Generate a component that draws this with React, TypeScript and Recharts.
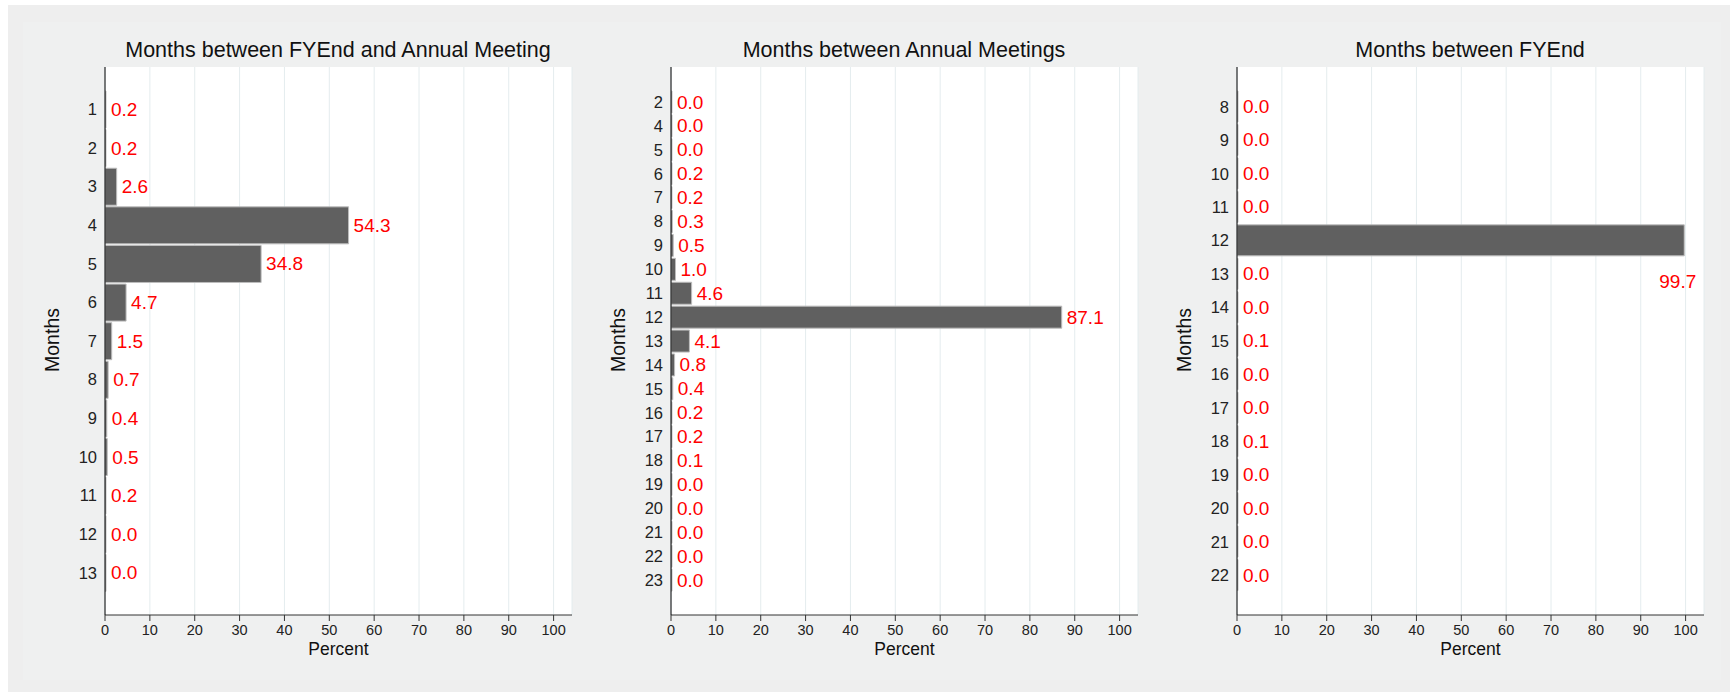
import React from 'react';
import { BarChart, Bar, CartesianGrid, XAxis, YAxis, LabelList, Label } from 'recharts';

const fyMeetMonths = ['1', '2', '3', '4', '5', '6', '7', '8', '9', '10', '11', '12', '13'];
const fyMeetPct = [0.2, 0.2, 2.6, 54.3, 34.8, 4.7, 1.5, 0.7, 0.4, 0.5, 0.2, 0.0, 0.0];

const meetMonths = ['2', '4', '5', '6', '7', '8', '9', '10', '11', '12', '13', '14', '15', '16', '17', '18', '19', '20', '21', '22', '23'];
const meetPct = [0.0, 0.0, 0.0, 0.2, 0.2, 0.3, 0.5, 1.0, 4.6, 87.1, 4.1, 0.8, 0.4, 0.2, 0.2, 0.1, 0.0, 0.0, 0.0, 0.0, 0.0];

const fyMonths = ['8', '9', '10', '11', '12', '13', '14', '15', '16', '17', '18', '19', '20', '21', '22'];
const fyPct = [0.0, 0.0, 0.0, 0.0, 99.7, 0.0, 0.0, 0.1, 0.0, 0.0, 0.1, 0.0, 0.0, 0.0, 0.0];

const percentTicks = [0, 10, 20, 30, 40, 50, 60, 70, 80, 90, 100];

const FONT = '"Liberation Sans", Arial, Helvetica, sans-serif';

const zip = (months: string[], pct: number[]) => months.map((m, i) => ({ m, pct: pct[i] }));

const renderValue = (props: any) => {
    const { x, y, width, height, value } = props;
    const v = Number(value);
    if (v > 95) {
        // no room on the right: drop it under the bar, like the original
        return (
            <text x={x + width + 12} y={y + height + 26} textAnchor="end" dominantBaseline="central" fill="#ff0000" fontSize={19} fontFamily={FONT}>
                {v.toFixed(1)}
            </text>
        );
    }
    return (
        <text x={x + width + 5} y={y + height / 2} dominantBaseline="central" fill="#ff0000" fontSize={19} fontFamily={FONT}>
            {v.toFixed(1)}
        </text>
    );
};

interface PanelProps {
    title: string;
    months: string[];
    pct: number[];
    plotLeft: number;
}

const Y_WIDTH = 80;
const M_RIGHT = 20;
const PLOT_W = 467;

const Panel: React.FC<PanelProps> = ({ title, months, pct, plotLeft }) => {
    const left = plotLeft - Y_WIDTH;
    const width = Y_WIDTH + PLOT_W + M_RIGHT;
    const data = zip(months, pct);
    return (
        <>
            <div style={{ position: 'absolute', left: plotLeft, top: 40, width: PLOT_W, textAlign: 'center', fontSize: 21.5, lineHeight: '21.5px', fontFamily: FONT, color: '#111', whiteSpace: 'nowrap' }}>
                {title}
            </div>
            <div style={{ position: 'absolute', left, top: 0 }}>
                <BarChart width={width} height={692} data={data} layout="vertical" barCategoryGap={1} margin={{ top: 67, right: M_RIGHT, left: 0, bottom: 27 }}>
                    <CartesianGrid horizontal={false} stroke="#e4ecee" fill="#ffffff" />
                    <XAxis
                        type="number"
                        domain={[0, 104.1]}
                        ticks={percentTicks}
                        allowDataOverflow
                        height={50}
                        tickSize={6}
                        tickMargin={4}
                        stroke="#333333"
                        tick={{ fill: '#222222', fontSize: 14.5, fontFamily: FONT }}
                    >
                        <Label
                            content={({ viewBox }: any) => (
                                <text x={viewBox.x + viewBox.width / 2} y={649} textAnchor="middle" dominantBaseline="central" fontSize={17.5} fill="#111" fontFamily={FONT}>
                                    Percent
                                </text>
                            )}
                        />
                    </XAxis>
                    <YAxis
                        type="category"
                        dataKey="m"
                        width={Y_WIDTH}
                        interval={0}
                        tickLine={false}
                        tickSize={5}
                        tickMargin={3}
                        axisLine={{ stroke: '#000000' }}
                        padding={{ top: 23, bottom: 23 }}
                        tick={{ fill: '#222222', fontSize: 16.5, fontFamily: FONT }}
                    >
                        <Label
                            content={({ viewBox }: any) => {
                                const cx = viewBox.x + viewBox.width - 53.5;
                                const cy = 340;
                                return (
                                    <text x={cx} y={cy} textAnchor="middle" dominantBaseline="central" fontSize={19.5} fill="#111" fontFamily={FONT} transform={`rotate(-90, ${cx}, ${cy})`}>
                                        Months
                                    </text>
                                );
                            }}
                        />
                    </YAxis>
                    <Bar dataKey="pct" fill="#606060" stroke="#bdbdbd" strokeWidth={1} minPointSize={1} isAnimationActive={false}>
                        <LabelList dataKey="pct" content={renderValue} />
                    </Bar>
                </BarChart>
            </div>
        </>
    );
};

const App: React.FC = () => {
    return (
        <div style={{ position: 'absolute', left: 0, top: 0, width: 1730, height: 692, background: '#ffffff', overflow: 'hidden' }}>
            <div style={{ position: 'absolute', left: 8, top: 5, right: 0, bottom: 0, background: '#eeeeee' }} />
            <div style={{ position: 'absolute', left: 23, top: 22, width: 1698, height: 658, background: '#eff0f0' }} />
            <Panel title="Months between FYEnd and Annual Meeting" months={fyMeetMonths} pct={fyMeetPct} plotLeft={104.5} />
            <Panel title="Months between Annual Meetings" months={meetMonths} pct={meetPct} plotLeft={670.5} />
            <Panel title="Months between FYEnd" months={fyMonths} pct={fyPct} plotLeft={1236.6} />
        </div>
    );
};

export default App;
